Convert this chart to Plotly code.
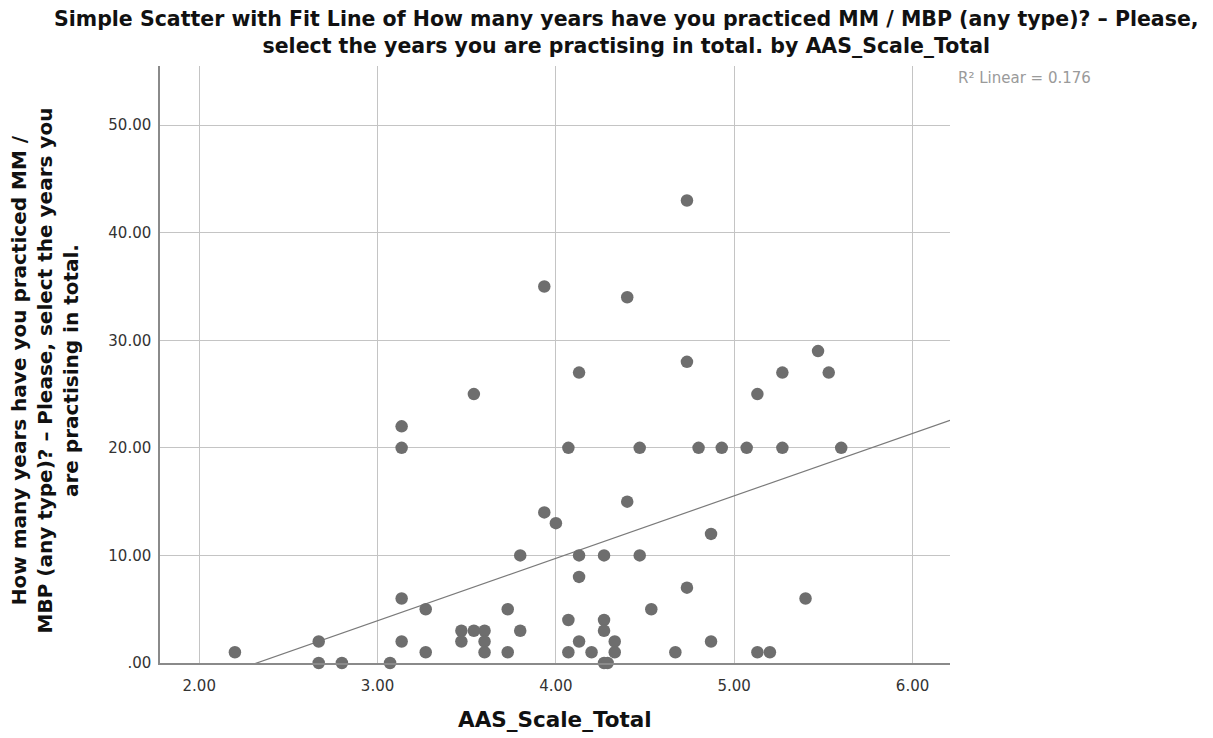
import numpy as np
import plotly.graph_objects as go

aas_scale_total = [2.20, 2.67, 2.67, 2.80, 3.07, 3.135, 3.135, 3.135, 3.135, 3.27, 3.27,
                   3.47, 3.47, 3.54, 3.54, 3.60, 3.60, 3.60, 3.73, 3.73, 3.80, 3.80,
                   3.935, 3.935, 4.00, 4.07, 4.07, 4.07, 4.13, 4.13, 4.13, 4.13, 4.20,
                   4.27, 4.27, 4.27, 4.27, 4.29, 4.33, 4.33, 4.40, 4.40, 4.47, 4.47,
                   4.535, 4.67, 4.735, 4.735, 4.735, 4.80, 4.87, 4.87, 4.93, 5.07,
                   5.13, 5.13, 5.20, 5.27, 5.27, 5.40, 5.47, 5.53, 5.60]
years_practiced = [1, 2, 0, 0, 0, 22, 20, 6, 2, 5, 1,
                   3, 2, 3, 25, 3, 2, 1, 5, 1, 10, 3,
                   35, 14, 13, 20, 4, 1, 27, 10, 8, 2, 1,
                   10, 4, 3, 0, 0, 2, 1, 34, 15, 20, 10,
                   5, 1, 43, 28, 7, 20, 12, 2, 20, 20,
                   25, 1, 1, 27, 20, 6, 29, 27, 20]

x_ticks = [2, 3, 4, 5, 6]
x_tick_labels = ["2.00", "3.00", "4.00", "5.00", "6.00"]
y_ticks = [0, 10, 20, 30, 40, 50]
y_tick_labels = [".00", "10.00", "20.00", "30.00", "40.00", "50.00"]
r2_label = "R\u00b2 Linear = 0.176"

title_text = ("Simple Scatter with Fit Line of How many years have you practiced MM / MBP (any type)? \u2013 Please,"
              "<br>select the years you are practising in total. by AAS_Scale_Total")
y_title_text = ("How many years have you practiced MM /<br>MBP (any type)? \u2013 Please, select the years you"
                "<br>are practising in total.")
x_title_text = "AAS_Scale_Total"

x_range = [1.78, 6.21]
y_range = [0, 55.5]

xa = np.array(aas_scale_total)
ya = np.array(years_practiced)
slope, intercept = np.polyfit(xa, ya, 1)
fit_x = np.array(x_range)
fit_y = intercept + slope * fit_x

fig = go.Figure()
fig.add_trace(go.Scatter(x=fit_x, y=fit_y, mode="lines",
                         line=dict(color="#7a7a7a", width=1.2), hoverinfo="skip",
                         showlegend=False))
fig.add_trace(go.Scatter(x=aas_scale_total, y=years_practiced, mode="markers",
                         marker=dict(color="#6e6e6e", size=12.5, line=dict(width=0)),
                         showlegend=False, cliponaxis=False))

fig.update_layout(
    width=1213, height=738,
    margin=dict(l=160, r=263, t=66, b=75),
    paper_bgcolor="white", plot_bgcolor="white",
    xaxis=dict(range=x_range, tickvals=x_ticks, ticktext=x_tick_labels,
               showgrid=True, gridcolor="#c4c4c4", gridwidth=1,
               showline=True, linecolor="#8a8a8a", linewidth=1.5,
               zeroline=False, ticks="outside", ticklen=8, tickcolor="rgba(0,0,0,0)",
               tickfont=dict(family="DejaVu Sans", size=15, color="#333333")),
    yaxis=dict(range=y_range, tickvals=y_ticks, ticktext=y_tick_labels,
               showgrid=True, gridcolor="#c4c4c4", gridwidth=1,
               showline=True, linecolor="#8a8a8a", linewidth=1.5,
               zeroline=False, ticks="outside", ticklen=4, tickcolor="rgba(0,0,0,0)",
               tickfont=dict(family="DejaVu Sans", size=15, color="#333333")),
    annotations=[
        dict(text=title_text, xref="paper", yref="paper", x=0.591, y=1.102,
             xanchor="center", yanchor="top", showarrow=False,
             font=dict(family="DejaVu Sans", size=20.5, color="#111111", weight="bold")),
        dict(text=y_title_text, xref="paper", yref="paper", x=-0.1456, y=0.49,
             xanchor="center", yanchor="middle", textangle=-90, showarrow=False,
             font=dict(family="DejaVu Sans", size=20, color="#111111", weight="bold")),
        dict(text=x_title_text, xref="paper", yref="paper", x=0.5, y=-0.095,
             xanchor="center", yanchor="middle", showarrow=False,
             font=dict(family="DejaVu Sans", size=21.5, color="#111111", weight="bold")),
        dict(text=r2_label, xref="paper", yref="paper", x=1.008, y=0.98,
             xanchor="left", yanchor="middle", showarrow=False,
             font=dict(family="DejaVu Sans", size=15, color="#9a9a9a")),
    ],
)

fig.write_html("out.html")
